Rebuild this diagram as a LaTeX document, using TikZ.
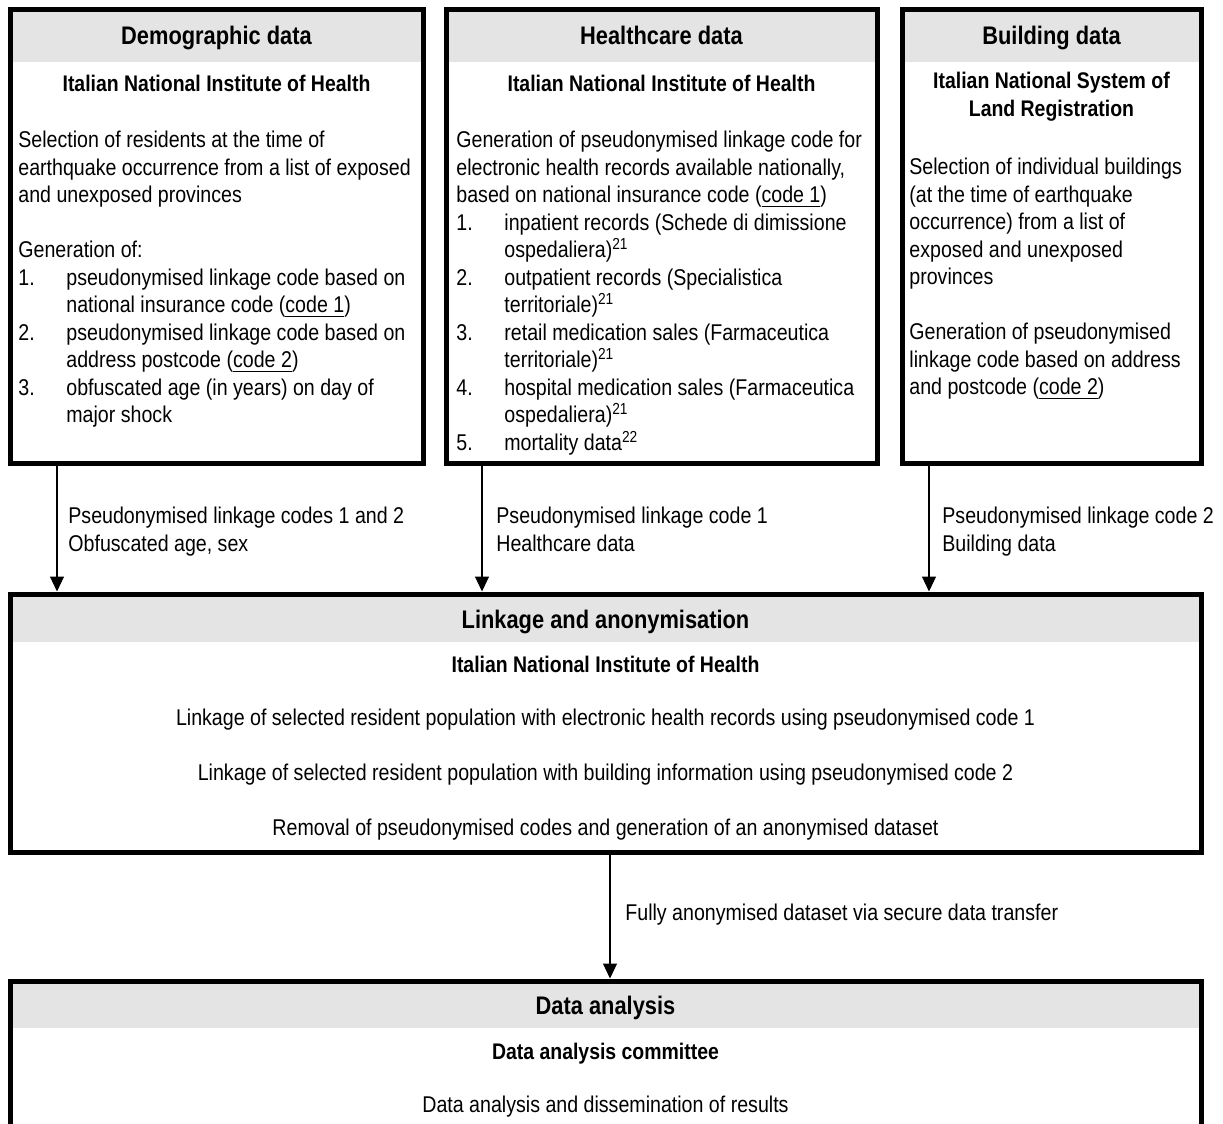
\documentclass[tikz,border=0pt]{standalone}
\usepackage{fontspec}
\setmainfont{Liberation Sans}[FakeStretch=0.86]
\usetikzlibrary{arrows.meta,fit,calc}
\definecolor{hdrgray}{RGB}{228,228,228}
\newcommand{\itm}[1]{\makebox[24pt][l]{#1}}
\newcommand{\cnt}{\hspace*{24pt}}
\tikzset{
  panel/.style={draw, line width=2.5pt, inner sep=0pt,
    path picture={\fill[hdrgray] (path picture bounding box.north west)
      rectangle ([yshift=-#1]path picture bounding box.north east);}},
  ttl/.style={font=\fontsize{12.7}{14}\selectfont\bfseries, anchor=base, inner sep=0pt},
  sub/.style={font=\fontsize{11.3}{13.75}\selectfont\bfseries, anchor=north, align=center,
    inner sep=0pt, execute at begin node=\strut},
  txt/.style={font=\fontsize{11.4}{13.75}\selectfont, anchor=north west, align=left,
    inner sep=0pt, execute at begin node=\strut},
  ctr/.style={txt, anchor=north, align=center},
  arr/.style={-{Triangle[width=7pt,length=7.5pt]}, line width=0.6pt}
}
\begin{document}
\begin{tikzpicture}[x=0.5pt, y=-0.5pt]
\clip (0,0) rectangle (1223,1124);
\node (demo) [panel=26.5pt, fit={(10,9) (423,463)}] {};
\node (care) [panel=26.5pt, fit={(446,9) (877,463)}] {};
\node (bldg) [panel=26.5pt, fit={(902,9) (1201,463)}] {};
\node (link) [panel=24pt, fit={(10,594) (1201,852)}] {};
\node (anls) [panel=23.5pt, fit={(10,981) (1201,1180)}] {};

\node (demottl) [ttl] at (216.5,45) {Demographic data};
\node (demosub) [sub] at (216.5,72) {Italian National Institute of Health};
\node (demosel) [txt] at (18,131) {Selection of residents at the time of\\
  earthquake occurrence from a list of exposed\\
  and unexposed provinces};
\node (demogen) [txt] at (18,241) {Generation of:\\
  \itm{1.}pseudonymised linkage code based on\\
  \cnt national insurance code (\underline{code 1})\\
  \itm{2.}pseudonymised linkage code based on\\
  \cnt address postcode (\underline{code 2})\\
  \itm{3.}obfuscated age (in years) on day of\\
  \cnt major shock};

\node (carettl) [ttl] at (661.5,45) {Healthcare data};
\node (caresub) [sub] at (661.5,72) {Italian National Institute of Health};
\node (caregen) [txt] at (456,131) {Generation of pseudonymised linkage code for\\
  electronic health records available nationally,\\
  based on national insurance code (\underline{code 1})\\
  \itm{1.}inpatient records (Schede di dimissione\\
  \cnt ospedaliera)\textsuperscript{21}\\
  \itm{2.}outpatient records (Specialistica\\
  \cnt territoriale)\textsuperscript{21}\\
  \itm{3.}retail medication sales (Farmaceutica\\
  \cnt territoriale)\textsuperscript{21}\\
  \itm{4.}hospital medication sales (Farmaceutica\\
  \cnt ospedaliera)\textsuperscript{21}\\
  \itm{5.}mortality data\textsuperscript{22}};

\node (bldgttl) [ttl] at (1051.5,45) {Building data};
\node (bldgsub) [sub] at (1051.5,72) {Italian National System of\\Land Registration};
\node (bldgsel) [txt] at (909,158) {Selection of individual buildings\\
  (at the time of earthquake\\
  occurrence) from a list of\\
  exposed and unexposed\\
  provinces};
\node (bldggen) [txt] at (909,323) {Generation of pseudonymised\\
  linkage code based on address\\
  and postcode (\underline{code 2})};

\node (lbldemo) [txt] at (68,507) {Pseudonymised linkage codes 1 and 2\\Obfuscated age, sex};
\node (lblcare) [txt] at (496,507) {Pseudonymised linkage code 1\\Healthcare data};
\node (lblbldg) [txt] at (942,507) {Pseudonymised linkage code 2\\Building data};

\node (linkttl) [ttl] at (605.5,628) {Linkage and anonymisation};
\node (linksub) [sub] at (605.5,653) {Italian National Institute of Health};
\node (linkhlth) [ctr] at (605.5,706) {Linkage of selected resident population with electronic health records using pseudonymised code 1};
\node (linkbldg) [ctr] at (605.5,761) {Linkage of selected resident population with building information using pseudonymised code 2};
\node (linkanon) [ctr] at (605.5,816) {Removal of pseudonymised codes and generation of an anonymised dataset};

\node (lbllink) [txt] at (625,901) {Fully anonymised dataset via secure data transfer};

\node (anlsttl) [ttl] at (605.5,1014) {Data analysis};
\node (anlssub) [sub] at (605.5,1040) {Data analysis committee};
\node (anlsdiss) [ctr] at (605.5,1093) {Data analysis and dissemination of results};

\coordinate (xdemo) at (57,0);
\coordinate (xcare) at (482,0);
\coordinate (xbldg) at (929,0);
\coordinate (xlink) at (610,0);
\draw [arr] (demo.south -| xdemo) -- (link.north -| xdemo);
\draw [arr] (care.south -| xcare) -- (link.north -| xcare);
\draw [arr] (bldg.south -| xbldg) -- (link.north -| xbldg);
\draw [arr] (link.south -| xlink) -- (anls.north -| xlink);
\end{tikzpicture}
\end{document}
